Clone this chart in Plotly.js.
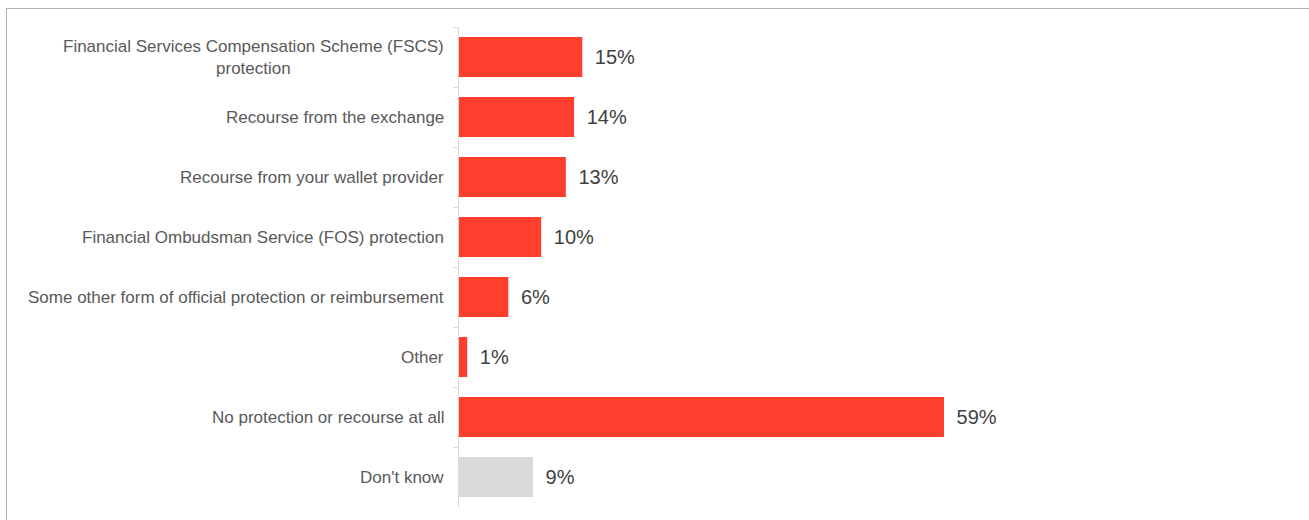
<!DOCTYPE html>
<html>
<head>
<meta charset="utf-8">
<script src="https://cdn.plot.ly/plotly-3.0.1.min.js"></script>
<style>
html,body{margin:0;padding:0;background:#fff;}
#wrap{position:relative;width:1309px;height:520px;overflow:hidden;}
#chart{position:absolute;left:0;top:0;width:1309px;height:520px;}
#frame{position:absolute;left:6px;top:8px;width:1400px;height:600px;border-left:1px solid #b3b3b3;border-top:1px solid #b3b3b3;pointer-events:none;}
</style>
</head>
<body>
<div id="wrap"><div id="chart"></div><div id="frame"></div></div>
<script>
var categories = [
  "Financial Services Compensation Scheme (FSCS)<br>protection",
  "Recourse from the exchange",
  "Recourse from your wallet provider",
  "Financial Ombudsman Service (FOS) protection",
  "Some other form of official protection or reimbursement",
  "Other",
  "No protection or recourse at all",
  "Don't know"
];
var values = [15, 14, 13, 10, 6, 1, 59, 9];
var valueLabels = ["15%", "14%", "13%", "10%", "6%", "1%", "59%", "9%"];
var barColors = ["#FF3F2D","#FF3F2D","#FF3F2D","#FF3F2D","#FF3F2D","#FF3F2D","#FF3F2D","#D9D9D9"];

var trace = {
  type: "bar",
  orientation: "h",
  y: categories,
  x: values,
  marker: {color: barColors, line: {width: 0}},
  text: valueLabels.map(function(t){ return "\u00a0\u2009" + t; }),
  textposition: "outside",
  textfont: {family: "Liberation Sans, Arial, sans-serif", size: 20, color: "#404040"},
  cliponaxis: false,
  hoverinfo: "none"
};

var annotations = categories.map(function(c){
  return {
    xref: "paper", yref: "y", x: 0, y: c,
    xanchor: "right", yanchor: "middle", xshift: -13,
    text: c, showarrow: false, align: "center",
    font: {family: "Liberation Sans, Arial, sans-serif", size: 17, color: "#595959"}
  };
});

var layout = {
  width: 1309, height: 520,
  margin: {l: 459, r: 28, t: 27, b: 13, pad: 0},
  paper_bgcolor: "#ffffff", plot_bgcolor: "#ffffff",
  showlegend: false,
  bargap: 1/3,
  xaxis: {range: [0, 100], visible: false, fixedrange: true},
  yaxis: {
    type: "category", autorange: "reversed",
    showticklabels: false, showgrid: false, zeroline: false,
    showline: true, linecolor: "#d9d9d9", linewidth: 1,
    ticks: "outside", tickson: "boundaries", ticklen: 5, tickcolor: "#d9d9d9", tickwidth: 1
  },
  annotations: annotations
};

Plotly.newPlot("chart", [trace], layout, {staticPlot: true, displayModeBar: false});
</script>
</body>
</html>
